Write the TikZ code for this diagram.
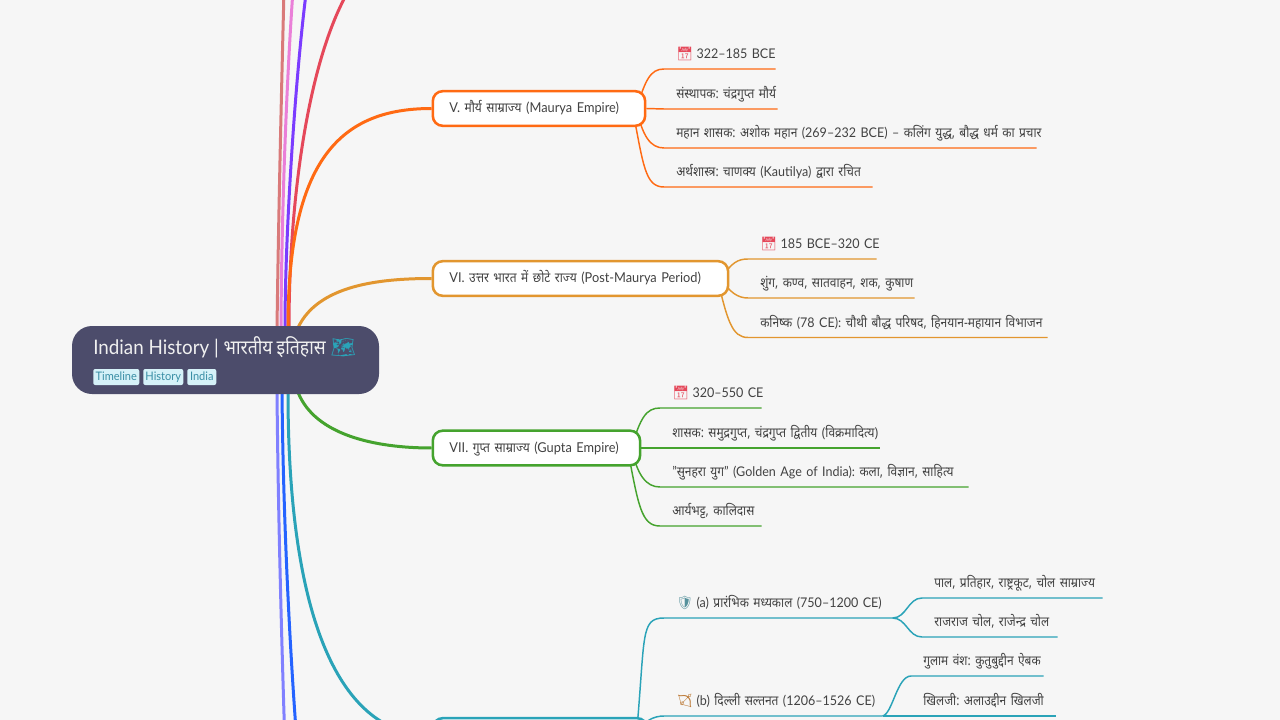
\documentclass[tikz,border=0pt]{standalone}
\usepackage{fontspec}
\setmainfont[FakeStretch=0.94]{Lato}
\newfontfamily\dvfont[Script=Devanagari,FakeStretch=0.88,WordSpace=0.9]{Noto Sans}
\newfontfamily\emojifont{Noto Emoji}
\usepackage{tikz}
\usetikzlibrary{calc,backgrounds}
\newcommand{\dv}[1]{{\dvfont\fontsize{10.2pt}{12pt}\selectfont #1}}
\newcommand{\emo}[2]{{\color{#1}\emojifont #2}\hspace{2.5pt}}
\definecolor{colorpage}{HTML}{F6F6F6}
\definecolor{colorroot}{HTML}{4C4C6B}
\definecolor{colortag}{HTML}{D5F1F8}
\definecolor{colortagtxt}{HTML}{3A8EA5}
\definecolor{colortxt}{HTML}{424242}
\definecolor{colorsal}{HTML}{D97A7A}
\definecolor{colorpink}{HTML}{EA7FD8}
\definecolor{colorpur}{HTML}{7B3CFF}
\definecolor{colorred}{HTML}{E5485A}
\definecolor{colormau}{HTML}{FF6A13}
\definecolor{colorpost}{HTML}{E2962F}
\definecolor{colorgup}{HTML}{45A32E}
\definecolor{colormed}{HTML}{2AA3B8}
\definecolor{colorperi}{HTML}{8080FF}
\definecolor{colorblu}{HTML}{2563FF}
\tikzset{
  edgemain/.style={line width=2.25pt},
  edgeleaf/.style={line width=1.1pt},
  rootbox/.style={fill=colorroot, rounded corners=15pt, minimum width=230.25pt, minimum height=51pt, inner sep=0},
  roottxt/.style={anchor=west, inner sep=0, text=white!94!black, font=\fontsize{15pt}{18pt}\selectfont},
  tagbox/.style={anchor=west, fill=colortag, rounded corners=1.5pt, inner sep=0, minimum height=12pt, text height=6.6pt, text depth=1.8pt, text=colortagtxt, font=\fontsize{8.8pt}{10pt}\selectfont},
  topic/.style={anchor=west, draw=#1, fill=white, line width=1.9pt, rounded corners=7.5pt, minimum height=26pt, inner xsep=12.5pt, inner ysep=0, text height=9pt, text depth=3pt, align=left, text=colortxt, font=\fontsize{10.2pt}{12pt}\selectfont},
  leaf/.style={anchor=south west, text width=#1*0.75pt, inner xsep=9pt, inner ysep=0, text height=10pt, text depth=7.5pt, align=left, text=colortxt, font=\fontsize{10pt}{12pt}\selectfont}
}
\begin{document}
\frenchspacing
\begin{tikzpicture}[x=0.75pt, y=-0.75pt]
\useasboundingbox (0,0) rectangle (1280,720);
\node[rootbox] (root) at (225.5,360) {};
\node[roottxt] (title) at (93,347.5) {Indian History | \dv{\fontsize{15pt}{18pt}\selectfont भारतीय इतिहास} \emo{colormed}{🗺}};
\node[tagbox, minimum width=34.5pt] (tl) at (93,377) {Timeline};
\node[tagbox, minimum width=30pt] (hs) at (143,377) {History};
\node[tagbox, minimum width=21.75pt] (in) at (187,377) {India};
% topics
\node[topic=colormau, text width=134.3pt] (mau) at (431.5,108.5) {\mbox{V. \dv{मौर्य साम्राज्य} (Maurya Empire)}};
\node[topic=colorpost, text width=196.5pt] (post) at (431.5,278.5) {\mbox{VI. \dv{उत्तर भारत में छोटे राज्य} (Post-Maurya Period)}};
\node[topic=colorgup, text width=130.5pt] (gup) at (431.5,448) {\mbox{VII. \dv{गुप्त साम्राज्य} (Gupta Empire)}};
\node[topic=colormed, text width=135.75pt] (med) at (431.5,735.5) {};
% leaves of V
\node[leaf=87] (maua) at (664,69) {\mbox{\emo{colorred}{📅}322–185 BCE}};
\node[leaf=89] (maub) at (664,109) {\mbox{\dv{संस्थापक: चंद्रगुप्त मौर्य}}};
\node[leaf=348] (mauc) at (664,148) {\mbox{\dv{महान शासक: अशोक महान} (269–232 BCE) – \dv{कलिंग युद्ध, बौद्ध धर्म का प्रचार}}};
\node[leaf=184] (maud) at (664,187) {\mbox{\dv{अर्थशास्त्र: चाणक्य} (Kautilya) \dv{द्वारा रचित}}};
% leaves of VI
\node[leaf=104] (posta) at (748,259) {\mbox{\emo{colorred}{📅}185 BCE–320 CE}};
\node[leaf=142] (postb) at (748,298) {\mbox{\dv{शुंग, कण्व, सातवाहन, शक, कुषाण}}};
\node[leaf=275] (postc) at (748,337.5) {\mbox{\dv{कनिष्क} (78 CE): \dv{चौथी बौद्ध परिषद, हिनयान-महायान विभाजन}}};
% leaves of VII
\node[leaf=77] (gupa) at (660,408) {\mbox{\emo{colorred}{📅}320–550 CE}};
\node[leaf=195] (gupb) at (660,448) {\mbox{\dv{शासक: समुद्रगुप्त, चंद्रगुप्त द्वितीय (विक्रमादित्य)}}};
\node[leaf=284] (gupc) at (660,487) {\mbox{"\dv{सुनहरा युग}" (Golden Age of India): \dv{कला, विज्ञान, साहित्य}}};
\node[leaf=77] (gupd) at (660,526) {\mbox{\dv{आर्यभट्ट, कालिदास}}};
% medieval sub topics
\node[leaf=204] (meda) at (664,618) {\mbox{\emo{colormed!50!gray}{🛡}(a) \dv{प्रारंभिक मध्यकाल} (750–1200 CE)}};
\node[leaf=194] (medb) at (664,716) {\mbox{\emo{brown}{🏹}(b) \dv{दिल्ली सल्तनत} (1206–1526 CE)}};
\node[leaf=156] (medaa) at (922,598) {\mbox{\dv{पाल, प्रतिहार, राष्ट्रकूट, चोल साम्राज्य}}};
\node[leaf=111] (medab) at (922,637) {\mbox{\dv{राजराज चोल, राजेन्द्र चोल}}};
\node[leaf=108] (medba) at (911,676) {\mbox{\dv{गुलाम वंश: कुतुबुद्दीन ऐबक}}};
\node[leaf=120] (medbb) at (911,716) {\mbox{\dv{खिलजी: अलाउद्दीन खिलजी}}};
\coordinate (sal) at (284,-10);
\coordinate (pink) at (293,-10);
\coordinate (pur) at (306.5,-10);
\coordinate (red) at (349,-10);
\coordinate (peri) at (284.5,730);
\coordinate (blu) at (296,730);
\coordinate (rt) at ($(root.north)+(51.5,2)$);
\coordinate (rb) at ($(root.south)+(51.5,-2)$);
\begin{scope}[on background layer]
\fill[colorpage] (0,0) rectangle (1280,720);
\draw[edgemain, colorsal] (rt) .. controls (278.5,220) and (281,110) .. (sal);
\draw[edgemain, colorpink] ($(rt)+(4,0)$) .. controls (281.5,220) and (286,90) .. (pink);
\draw[edgemain, colorpur] ($(rt)+(8,0)$) .. controls (285,230) and (296,70) .. (pur);
\draw[edgemain, colorred] ($(rt)+(12,0)$) .. controls (289,200) and (308,60) .. (red);
\draw[edgemain, colormau] ($(rt)+(11,0)$) .. controls (288,160) and (340,108.5) .. (mau.west);
\draw[edgemain, colorpost] ($(rt)+(21,0)$) .. controls (318,285) and (380,278.5) .. (post.west);
\draw[edgemain, colorgup] ($(rb)+(21,0)$) .. controls (315,435) and (375,448) .. (gup.west);
\draw[edgemain, colormed] ($(rb)+(11,0)$) .. controls (288,620) and (340,735.5) .. (med.west);
\draw[edgemain, colorperi] (rb) .. controls (278,500) and (281,620) .. (peri);
\draw[edgemain, colorblu] ($(rb)+(5,0)$) .. controls (283,500) and (288,620) .. (blu);
% from V
\draw[edgeleaf, colormau] ($(mau.east)+(-10,0)$) .. controls +(9,-28) and +(-14,0) .. (maua.south west) -- (maua.south east);
\draw[edgeleaf, colormau] (mau.east) -- (maub.south west) -- (maub.south east);
\draw[edgeleaf, colormau] ($(mau.east)+(-10,0)$) .. controls +(6,27) and +(-14,0) .. (mauc.south west) -- (mauc.south east);
\draw[edgeleaf, colormau] ($(mau.east)+(-14,0)$) .. controls +(11,57) and +(-19,0) .. (maud.south west) -- (maud.south east);
% from VI
\draw[edgeleaf, colorpost] ($(post.east)+(-8,0)$) .. controls +(10,-16) and +(-10,0) .. (posta.south west) -- (posta.south east);
\draw[edgeleaf, colorpost] ($(post.east)+(-8,0)$) .. controls +(8,14) and +(-10,0) .. (postb.south west) -- (postb.south east);
\draw[edgeleaf, colorpost] ($(post.east)+(-12,0)$) .. controls +(10,42) and +(-16,0) .. (postc.south west) -- (postc.south east);
% from VII
\draw[edgeleaf, colorgup] ($(gup.east)+(-10,0)$) .. controls +(9,-30) and +(-14,0) .. (gupa.south west) -- (gupa.south east);
\draw[edgeleaf, colorgup] (gup.east) -- (gupb.south west) -- (gupb.south east);
\draw[edgeleaf, colorgup] ($(gup.east)+(-10,0)$) .. controls +(6,27) and +(-14,0) .. (gupc.south west) -- (gupc.south east);
\draw[edgeleaf, colorgup] ($(gup.east)+(-14,0)$) .. controls +(11,57) and +(-19,0) .. (gupd.south west) -- (gupd.south east);
% medieval
\draw[edgeleaf, colormed] ($(med.east)+(-12,0)$) .. controls +(9,-100) and +(-24,0) .. (meda.south west) -- (meda.south east);
\draw[edgeleaf, colormed] ($(med.east)+(-10,0)$) .. controls +(4,-15) and +(-10,0) .. (medb.south west) -- (medb.south east);
\draw[edgeleaf, colormed] (meda.south east) .. controls +(14,0) and +(-14,0) .. (medaa.south west) -- (medaa.south east);
\draw[edgeleaf, colormed] (meda.south east) .. controls +(14,0) and +(-14,0) .. (medab.south west) -- (medab.south east);
\draw[edgeleaf, colormed] (medb.south east) .. controls +(10,-2) and +(-14,0) .. (medba.south west) -- (medba.south east);
\draw[edgeleaf, colormed] (medb.south east) -- (medbb.south west) -- (medbb.south east);
\end{scope}
\end{tikzpicture}
\end{document}
